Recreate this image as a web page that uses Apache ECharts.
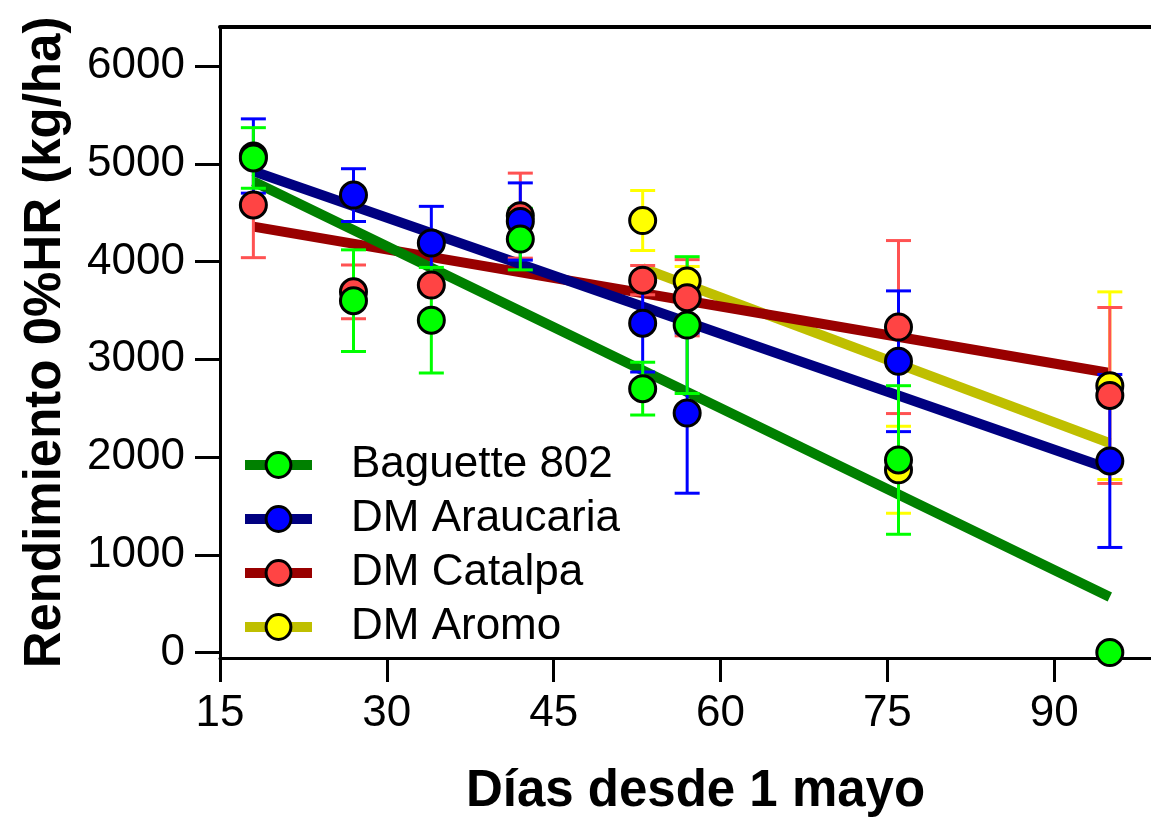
<!DOCTYPE html>
<html lang="es">
    <head>
        <meta charset="UTF-8" />
        <title>Rendimiento 0%HR vs días desde 1 mayo</title>
        <script src="https://cdn.jsdelivr.net/npm/echarts@6/dist/echarts.min.js"></script>
        <style>
            * {
                margin: 0;
                padding: 0;
            }
            body {
                background: #fff;
            }
            #chart {
                width: 1151px;
                height: 818px;
            }
        </style>
    </head>
    <body>
        <div id="chart"></div>
        <script type="text/javascript">
            // valores (media ± desvío)
            const cultivares = ['Baguette 802', 'DM Araucaria', 'DM Catalpa', 'DM Aromo'];

            const diasBaguette = [18, 27, 34, 42, 53, 57, 76, 95];
            const mediaBaguette = [5060, 3600, 3400, 4230, 2700, 3350, 1970, 0];
            const errBaguette = [310, 520, 540, 315, 270, 700, 760, 0];

            const diasAraucaria = [18, 27, 34, 42, 53, 57, 76, 95];
            const mediaAraucaria = [5080, 4680, 4190, 4410, 3370, 2450, 2980, 1960];
            const errAraucaria = [380, 270, 375, 395, 500, 820, 720, 885];

            const diasCatalpa = [18, 27, 34, 42, 53, 57, 76, 95];
            const mediaCatalpa = [4580, 3690, 3760, 4470, 3810, 3630, 3330, 2630];
            const errCatalpa = [540, 275, 60, 435, 150, 390, 885, 900];

            const diasAromo = [53, 57, 76, 95];
            const mediaAromo = [4420, 3800, 1870, 2730];
            const errAromo = [307, 150, 445, 960];

            // rectas de regresión: [día, rendimiento] en los extremos
            const rectaBaguette = [[18, 4820], [95, 567]];
            const rectaAraucaria = [[18, 4925], [95, 1877]];
            const rectaCatalpa = [[18, 4358], [95, 2860]];
            const rectaAromo = [[53, 3933], [95, 2143]];

            const ticksX = [15, 30, 45, 60, 75, 90];
            const ticksY = [0, 1000, 2000, 3000, 4000, 5000, 6000];

            const fuente = 'Liberation Sans, Arial, sans-serif';

            // de abajo hacia arriba, como en el original
            const grupos = [
                { name: 'DM Aromo', dias: diasAromo, media: mediaAromo, err: errAromo, recta: rectaAromo,
                  linea: '#bfbf00', punto: '#ffff00', barra: '#ffff00' },
                { name: 'DM Catalpa', dias: diasCatalpa, media: mediaCatalpa, err: errCatalpa, recta: rectaCatalpa,
                  linea: '#990000', punto: '#ff4444', barra: '#ff5252' },
                { name: 'DM Araucaria', dias: diasAraucaria, media: mediaAraucaria, err: errAraucaria, recta: rectaAraucaria,
                  linea: '#000080', punto: '#0000ff', barra: '#0000ff' },
                { name: 'Baguette 802', dias: diasBaguette, media: mediaBaguette, err: errBaguette, recta: rectaBaguette,
                  linea: '#008000', punto: '#00ff00', barra: '#00ff00' }
            ];

            function barraError(color) {
                return function (params, api) {
                    const x = api.value(0);
                    const lo = api.value(1);
                    const hi = api.value(2);
                    if (hi === lo) return;
                    const a = api.coord([x, hi]);
                    const b = api.coord([x, lo]);
                    const w = 12.5;
                    const st = { stroke: color, lineWidth: 3 };
                    return {
                        type: 'group',
                        children: [
                            { type: 'line', shape: { x1: a[0], y1: a[1], x2: b[0], y2: b[1] }, style: st },
                            { type: 'line', shape: { x1: a[0] - w, y1: a[1], x2: a[0] + w, y2: a[1] }, style: st },
                            { type: 'line', shape: { x1: b[0] - w, y1: b[1], x2: b[0] + w, y2: b[1] }, style: st }
                        ]
                    };
                };
            }

            const series = [];
            // primero las rectas (quedan debajo)
            grupos.forEach(function (g) {
                series.push({
                    name: g.name,
                    type: 'line',
                    data: g.recta,
                    symbol: 'none',
                    z: 2,
                    lineStyle: { color: g.linea, width: 10 },
                    itemStyle: { color: g.punto, borderColor: '#000', borderWidth: 3 }
                });
            });
            grupos.forEach(function (g) {
                series.push({
                    name: g.name,
                    type: 'custom',
                    z: 3,
                    renderItem: barraError(g.barra),
                    data: g.dias.map(function (d, i) {
                        return [d, g.media[i] - g.err[i], g.media[i] + g.err[i]];
                    })
                });
                series.push({
                    name: g.name,
                    type: 'scatter',
                    z: 3,
                    symbol: 'circle',
                    symbolSize: 26,
                    itemStyle: { color: g.punto, borderColor: '#000', borderWidth: 3, opacity: 1 },
                    data: g.dias.map(function (d, i) {
                        return [d, g.media[i]];
                    })
                });
            });

            const leyenda = cultivares.map(function (n) {
                const g = grupos.find(function (x) { return x.name === n; });
                return {
                    name: n,
                    itemStyle: { color: g.punto, borderColor: '#000', borderWidth: 3 },
                    lineStyle: { color: g.linea, width: 10 }
                };
            });

            const myChart = echarts.init(document.getElementById('chart'));
            const option = {
                animation: false,
                backgroundColor: '#fff',
                textStyle: { fontFamily: fuente },
                grid: { left: 220, top: 27, width: 951, height: 631, outerBoundsMode: 'none', containLabel: false },
                legend: {
                    orient: 'vertical',
                    left: 235,
                    top: 438,
                    itemWidth: 67,
                    itemHeight: 31,
                    itemGap: 10,
                    selectedMode: false,
                    textStyle: { fontSize: 44, color: '#000', fontFamily: fuente, padding: [0, 0, 0, 34] },
                    data: leyenda
                },
                xAxis: [
                    {
                        type: 'value',
                        min: 15,
                        max: 100.5,
                        name: 'Días desde 1 mayo',
                        nameLocation: 'middle',
                        nameGap: 108,
                        nameTextStyle: { fontSize: 51, fontWeight: 'bold', color: '#000', fontFamily: fuente },
                        axisLine: { onZero: false, lineStyle: { color: '#000', width: 3 } },
                        axisTick: { show: true, length: 24, customValues: ticksX, lineStyle: { color: '#000', width: 3 } },
                        axisLabel: { customValues: ticksX, margin: 34, fontSize: 44, color: '#000', fontFamily: fuente },
                        splitLine: { show: false }
                    },
                    {
                        type: 'value',
                        position: 'top',
                        min: 15,
                        max: 100.5,
                        axisLine: { show: true, onZero: false, lineStyle: { color: '#000', width: 4 } },
                        axisTick: { show: false },
                        axisLabel: { show: false },
                        splitLine: { show: false }
                    }
                ],
                yAxis: {
                    type: 'value',
                    min: -56,
                    max: 6400,
                    name: 'Rendimiento 0%HR (kg/ha)',
                    nameLocation: 'middle',
                    nameGap: 149,
                    nameTextStyle: { fontSize: 51, fontWeight: 'bold', color: '#000', fontFamily: fuente },
                    axisLine: { show: true, onZero: false, lineStyle: { color: '#000', width: 3 } },
                    axisTick: { show: true, length: 25, customValues: ticksY, lineStyle: { color: '#000', width: 3 } },
                    axisLabel: {
                        customValues: ticksY,
                        margin: 35,
                        fontSize: 44,
                        color: '#000',
                        fontFamily: fuente,
                        formatter: function (v) {
                            return String(v);
                        }
                    },
                    splitLine: { show: false }
                },
                series: series
            };
            myChart.setOption(option);
        </script>
    </body>
</html>
